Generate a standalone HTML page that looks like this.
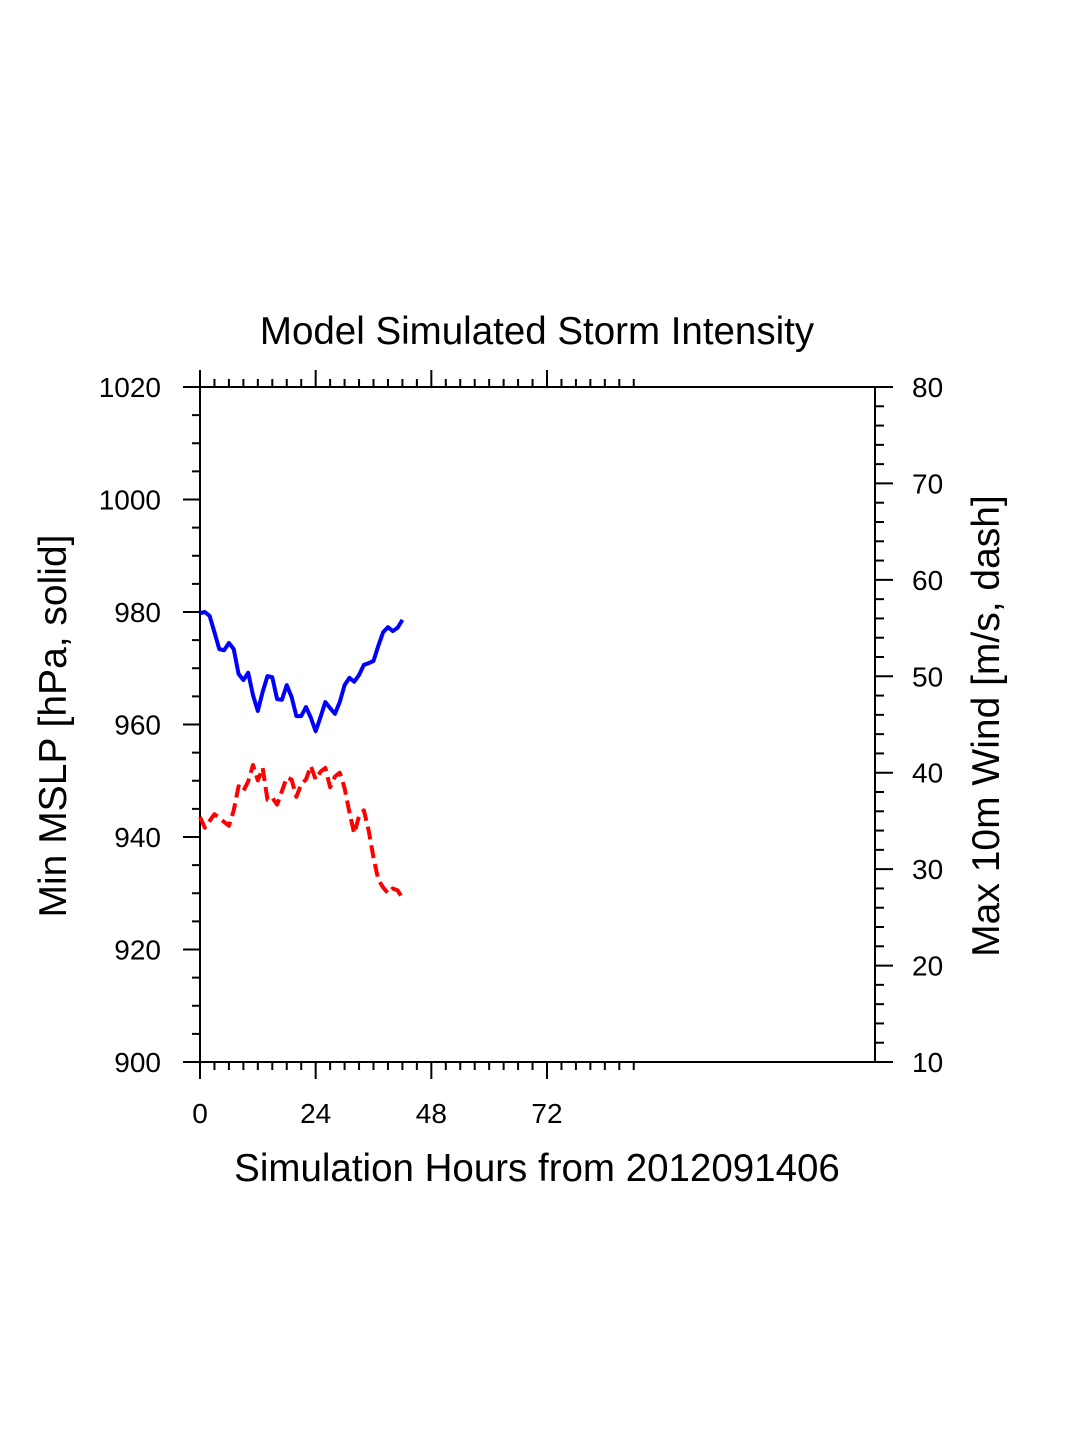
<!DOCTYPE html>
<html><head><meta charset="utf-8"><style>
body{margin:0;background:#fff}
svg text{font-family:"Liberation Sans",sans-serif;fill:#000}
</style></head><body>
<svg id="chart" width="1075" height="1450" xmlns="http://www.w3.org/2000/svg">
<text x="537" y="344" font-size="38.5" text-anchor="middle">Model Simulated Storm Intensity</text>
<g id="axes"></g>
<g id="series"></g>
<text x="537" y="1181" font-size="38.5" text-anchor="middle">Simulation Hours from 2012091406</text>
<text transform="translate(66,726) rotate(-90)" font-size="39" text-anchor="middle">Min MSLP  [hPa, solid]</text>
<text transform="translate(999,726) rotate(-90)" font-size="39" text-anchor="middle">Max 10m Wind  [m/s, dash]</text>
</svg>
<script>
const hours = [0,1,2,3,4,5,6,7,8,9,10,11,12,13,14,15,16,17,18,19,20,21,22,23,24,25,26,27,28,29,30,31,32,33,34,35,36,37,38,39,40,41,42];
const mslp = [979.8,980.0,979.3,976.4,973.4,973.2,974.5,973.4,969.0,967.9,969.2,965.2,962.4,965.8,968.6,968.4,964.5,964.4,967.0,964.9,961.5,961.5,963.1,961.2,958.8,961.3,964.0,962.9,961.9,964.0,967.0,968.3,967.6,968.8,970.6,970.9,971.3,974.0,976.4,977.3,976.6,977.2,978.6];
const wind = [35.4,34.3,35.0,35.7,35.3,34.9,34.5,36.1,38.6,38.1,39.1,40.8,39.2,40.5,37.2,37.4,36.7,38.1,39.5,39.3,37.5,38.8,39.3,40.7,39.3,40.1,40.5,38.5,39.6,40.0,38.4,35.9,33.7,35.5,36.1,34.0,31.2,28.9,28.1,27.5,28.0,27.8,27.0];
const xTicks = [0,24,48,72];
const leftTicks = [900,920,940,960,980,1000,1020];
const rightTicks = [10,20,30,40,50,60,70,80];

const L=200,R=875,T=387,B=1062;
const xs = h => L + h*(547-L)/72;
const yl = v => B - (v-900)*(B-T)/120;
const yr = v => B - (v-10)*(B-T)/70;
const NS="http://www.w3.org/2000/svg";
const axes=document.getElementById('axes'), series=document.getElementById('series');
function mk(tag,attrs,parent){const e=document.createElementNS(NS,tag);for(const k in attrs)e.setAttribute(k,attrs[k]);parent.appendChild(e);return e;}
function ln(x1,y1,x2,y2,name){const e=mk('line',{x1,y1,x2,y2,stroke:'#000','stroke-width':2},axes);

}
const fr=mk('rect',{x:L,y:T,width:R-L,height:B-T,fill:'none',stroke:'#000','stroke-width':2},axes);


for(let h=0;h<=90;h+=3){const maj=h%24===0;const len=maj?17:8;
ln(xs(h),T,xs(h),T-len,'x-top-tick');ln(xs(h),B,xs(h),B+len,'x-bottom-tick');}
xTicks.forEach(h=>{const t=mk('text',{x:xs(h),y:1123,'font-size':28,'text-anchor':'middle'},axes);t.textContent=h;

});
for(let v=900;v<=1020;v+=5){const maj=v%20===0;ln(L,yl(v),L-(maj?17:8),yl(v),'left-y-tick');}
leftTicks.forEach(v=>{const t=mk('text',{x:161,y:yl(v)+10,'font-size':28,'text-anchor':'end'},axes);t.textContent=v;

});
for(let v=10;v<=80;v+=2){const maj=v%10===0;ln(R,yr(v),R+(maj?18:9),yr(v),'right-y-tick');}
rightTicks.forEach(v=>{const t=mk('text',{x:912,y:yr(v)+10,'font-size':28,'text-anchor':'start'},axes);t.textContent=v;

});
const p1=mk('polyline',{points:hours.map((h,i)=>xs(h)+','+yl(mslp[i])).join(' '),fill:'none',stroke:'#0000ff','stroke-width':4,'stroke-linejoin':'round'},series);


const p2=mk('polyline',{points:hours.map((h,i)=>xs(h)+','+yr(wind[i])).join(' '),fill:'none',stroke:'#ff0000','stroke-width':4,'stroke-dasharray':'13 6','stroke-linejoin':'round'},series);


</script>
</body></html>
